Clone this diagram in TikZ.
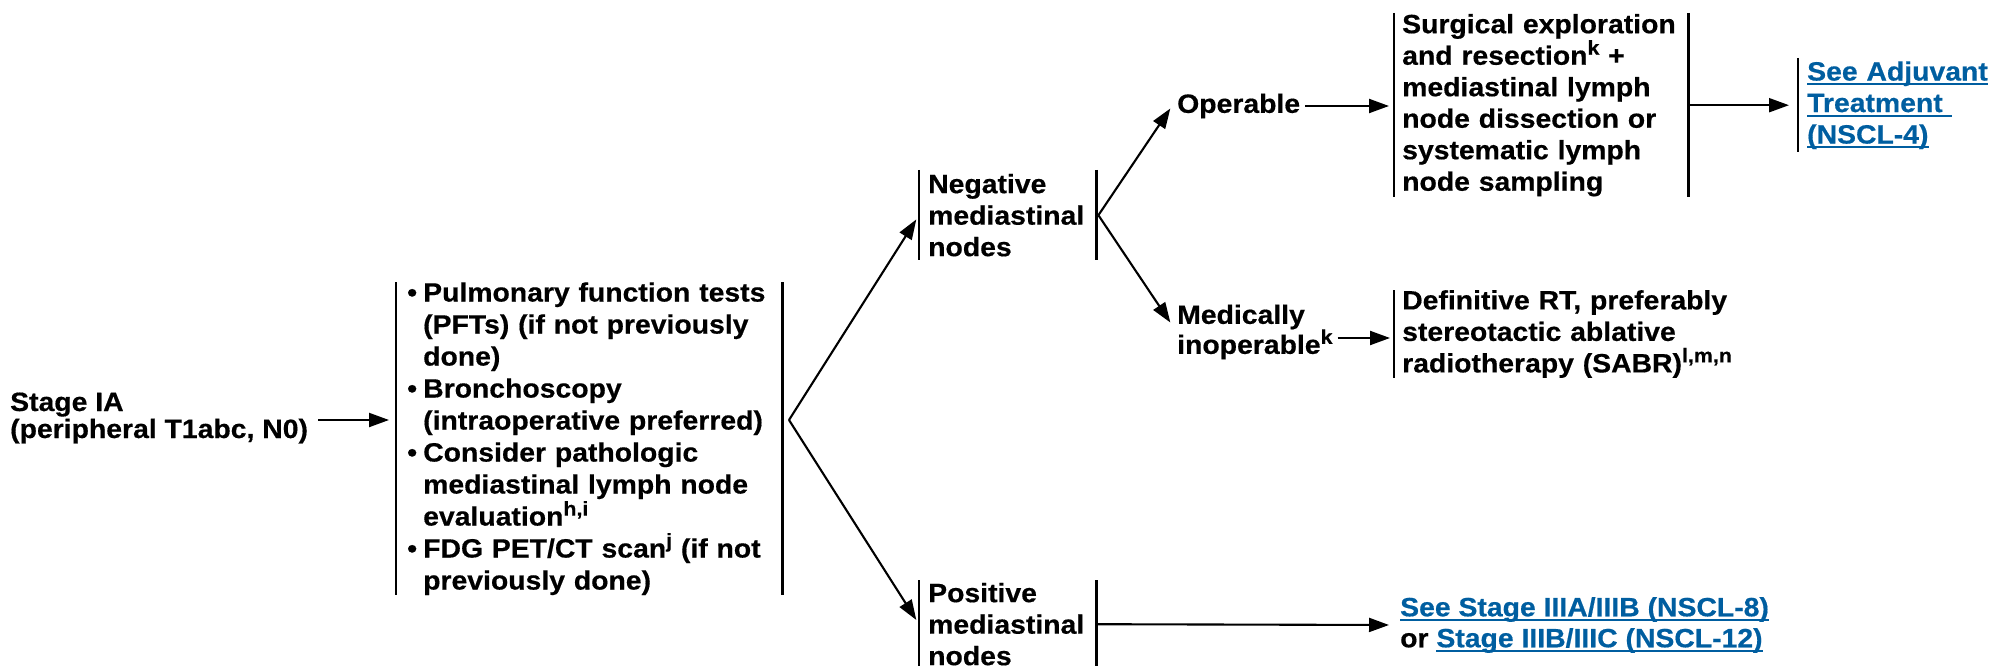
\documentclass[tikz,border=0pt]{standalone}
\usepackage{fontspec}
\setmainfont{Liberation Sans}[FakeStretch=1.07, BoldFeatures={FakeBold=0.5}]
\usetikzlibrary{arrows.meta}
\definecolor{linkblue}{RGB}{0,94,160}
\newlength{\ulw}
\newcommand{\ulk}[1]{\settowidth{\ulw}{#1}\rlap{\rule[-4.5pt]{\ulw}{2pt}}#1}
\newcommand{\bl}{\makebox[16pt][l]{•}}
\newcommand{\hi}{\hspace*{16pt}}
\newcommand{\sx}[1]{\raisebox{10pt}{\fontsize{20}{20}\selectfont #1}}
\begin{document}
\begin{tikzpicture}[x=1pt,y=-1pt,
  bar/.style={line width=2.3pt},
  arr/.style={line width=2.1pt,-{Triangle[length=20pt,width=14pt]}},
  lbl/.style={font=\bfseries\fontsize{26.5}{#1}\selectfont, inner ysep=0pt, align=left},
  lbl/.default=31.5]
\useasboundingbox (0,0) rectangle (1990,666);

\node[lbl=27, anchor=west, inner xsep=10pt] (stage) at (0,418) {Stage IA\\(peripheral T1abc, N0)};

\node[lbl=32, anchor=north west, inner xsep=11pt, text width=364pt, minimum height=313pt] (bul) at (396,282)
 {\mbox{\bl Pulmonary function tests}\\
  \mbox{\hi(PFTs) (if not previously}\\
  \mbox{\hi done)}\\
  \mbox{\bl Bronchoscopy}\\
  \mbox{\hi(intraoperative preferred)}\\
  \mbox{\bl Consider pathologic}\\
  \mbox{\hi mediastinal lymph node}\\
  \mbox{\hi evaluation\sx{h,i}}\\
  \mbox{\bl FDG PET/CT scan\sx{j} (if not}\\
  \mbox{\hi previously done)}};

\node[lbl, anchor=north west, inner xsep=9pt, text width=159pt, minimum height=90pt] (neg) at (919,170)
 {\mbox{Negative}\\\mbox{mediastinal}\\\mbox{nodes}};

\node[lbl, anchor=north west, inner xsep=9pt, text width=159pt, minimum height=88pt] (pos) at (919,580)
 {\mbox{Positive}\\\mbox{mediastinal}\\\mbox{nodes}};

\node[lbl, anchor=west, inner xsep=5pt] (oper) at (1172,106) {Operable};
\node[lbl=30, anchor=west, inner xsep=5pt] (med) at (1172,332) {Medically\\inoperable\sx{k}};

\node[lbl, anchor=north west, inner xsep=8pt, text width=278pt, minimum height=184pt] (surg) at (1394,13)
 {\mbox{Surgical exploration}\\
  \mbox{and resection\sx{k} +}\\
  \mbox{mediastinal lymph}\\
  \mbox{node dissection or}\\
  \mbox{systematic lymph}\\
  \mbox{node sampling}};

\node[lbl, anchor=north west, inner xsep=9pt, text width=185pt, minimum height=94pt, text=linkblue] (adj) at (1798,58)
 {\mbox{\ulk{See Adjuvant}}\\\mbox{\ulk{Treatment }}\\\mbox{\ulk{(NSCL-4)}}};

\node[lbl, anchor=north west, inner xsep=8pt, text width=400pt, minimum height=87pt] (defrt) at (1394,290)
 {\mbox{Definitive RT, preferably}\\
  \mbox{stereotactic ablative}\\
  \mbox{radiotherapy (SABR)\sx{l,m,n}}};

\node[lbl=31, anchor=west, inner xsep=8pt] (links) at (1392,625)
 {\textcolor{linkblue}{\ulk{See Stage IIIA/IIIB (NSCL-8)}}\\
  or \textcolor{linkblue}{\ulk{Stage IIIB/IIIC (NSCL-12)}}};

% bars
\draw[bar] (bul.north west) -- (bul.south west) (bul.north east) -- (bul.south east);
\draw[bar] (neg.north west) -- (neg.south west) (neg.north east) -- (neg.south east);
\draw[bar] (pos.north west) -- ([yshift=-10pt]pos.south west) (pos.north east) -- ([yshift=-10pt]pos.south east);
\draw[bar] (surg.north west) -- (surg.south west) (surg.north east) -- (surg.south east);
\draw[bar] (adj.north west) -- (adj.south west);
\draw[bar] (defrt.north west) -- (defrt.south west);

% junctions
\coordinate (v1) at (789,420);
\coordinate (v2) at ([xshift=2pt]neg.east);

% connectors
\draw[arr, shorten >=7pt] ([yshift=-2pt]stage.east) -- ([yshift=-2pt]stage.east -| bul.west);
\draw[arr, shorten >=5pt] (v1) -- (neg.west);
\draw[arr, shorten >=5pt] (v1) -- (pos.west);
\draw[arr, shorten >=3pt] (v2) -- (oper.west);
\draw[arr, shorten >=3pt] (v2) -- ([yshift=7pt]med.west);
\draw[arr, shorten >=5pt] (oper.east) -- (oper.east -| surg.west);
\draw[arr, shorten >=4pt] ([yshift=-6pt]med.east) -- ([yshift=-6pt]med.east -| defrt.west);
\draw[arr, shorten >=9pt] (surg.east) -- (surg.east -| adj.west);
\draw[arr, shorten >=3pt] (pos.east) -- (links.west);
\end{tikzpicture}
\end{document}
